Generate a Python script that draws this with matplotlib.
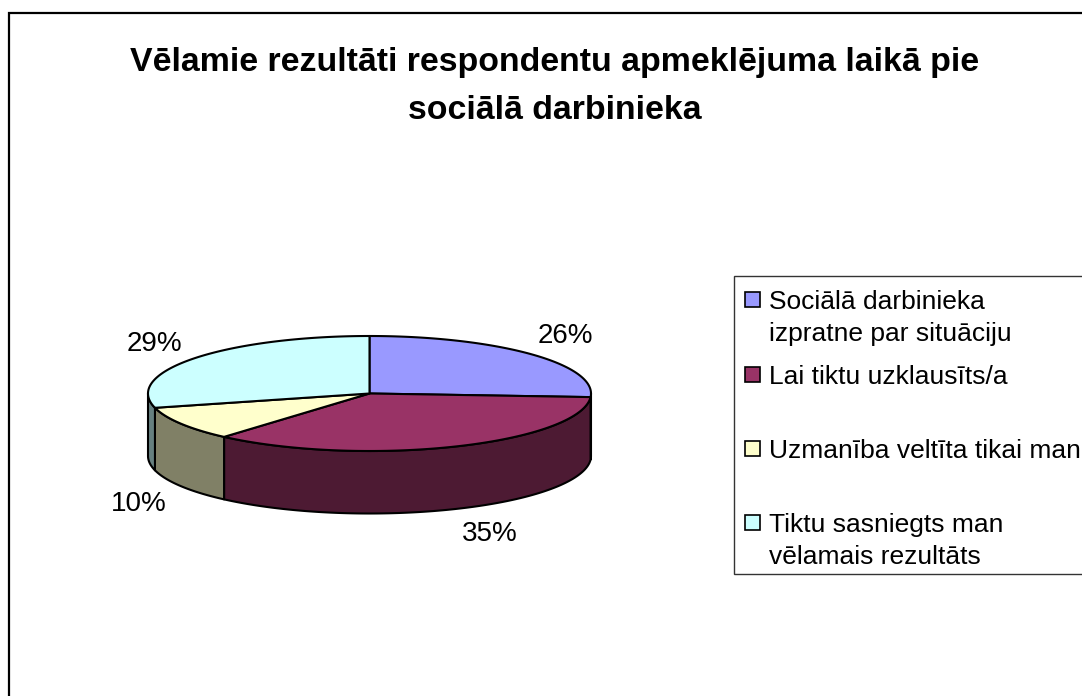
import numpy as np
import matplotlib
matplotlib.use("Agg")
import matplotlib.pyplot as plt
from matplotlib.patches import Polygon, Rectangle

plt.rcParams['font.family'] = ['Liberation Sans', 'DejaVu Sans']

title = "Vēlamie rezultāti respondentu apmeklējuma laikā pie\nsociālā darbinieka"
categories = ["Sociālā darbinieka\nizpratne par situāciju", "Lai tiktu uzklausīts/a",
              "Uzmanība veltīta tikai man", "Tiktu sasniegts man\nvēlamais rezultāts"]
values = [26, 35.4, 9.6, 29]
value_labels = ["26%", "35%", "10%", "29%"]
top_colors = ["#9999FF", "#993366", "#FFFFCC", "#CCFFFF"]
side_colors = ["#4D4D80", "#4D1A33", "#808066", "#668080"]

W, H = 1082, 696
fig = plt.figure(figsize=(W / 100, H / 100), dpi=100)
ax = fig.add_axes([0, 0, 1, 1])
ax.set_xlim(0, W)
ax.set_ylim(H, 0)
ax.axis("off")

# outer frame (runs off the right and bottom edges)
ax.add_patch(Rectangle((8.5, 13), W + 20, H + 20, fc="white", ec="black", lw=1.6))

ax.text(554.5, 119, title, ha="center", va="baseline", fontsize=24.4, fontweight="bold",
        linespacing=1.7, multialignment="center")

cx, cy, rx, ry, depth = 369.5, 393.5, 221.5, 57.5, 62.5


def arc(a0, a1, dy=0.0):
    t = np.radians(np.linspace(a0, a1, max(int(abs(a1 - a0)) * 2, 2)))
    return np.column_stack([cx + rx * np.cos(t), cy + dy - ry * np.sin(t)])


fractions = np.array(values) / np.sum(values)
starts = 90 - 360 * np.concatenate([[0], np.cumsum(fractions)[:-1]])
ends = starts - 360 * fractions

# side walls: only the front half of the ellipse is visible
for a0, a1, col in zip(starts, ends, side_colors):
    lo, hi = max(a1, -180), min(a0, 0)
    if hi > lo:
        top = arc(hi, lo)
        bottom = arc(lo, hi, depth)
        ax.add_patch(Polygon(np.vstack([top, bottom]), closed=True, fc=col, ec="black",
                             lw=1.5, joinstyle="round"))

# top faces
for a0, a1, col in zip(starts, ends, top_colors):
    pts = np.vstack([[cx, cy], arc(a0, a1)])
    ax.add_patch(Polygon(pts, closed=True, fc=col, ec="black", lw=1.5, joinstyle="round"))

# value labels
label_pos = [(565, 336), (490, 534), (139, 504), (154, 344)]
for (x, y), s in zip(label_pos, value_labels):
    ax.text(x, y, s, ha="center", va="center", fontsize=20, color="black")

# legend
ax.add_patch(Rectangle((733.5, 275.5), W, 298.5, fc="white", ec="#333333", lw=1.0))
swatch_y = [292, 367, 441, 515]
for y, s, col in zip(swatch_y, categories, top_colors):
    ax.add_patch(Rectangle((744.5, y), 15.5, 15, fc=col, ec="black", lw=1.2))
    ax.text(769, y + 16.5 + 33 * s.count("\n"), s, ha="left", va="baseline", fontsize=19,
            color="black", linespacing=1.46, multialignment="left")

fig.savefig("out.png", dpi=100)
